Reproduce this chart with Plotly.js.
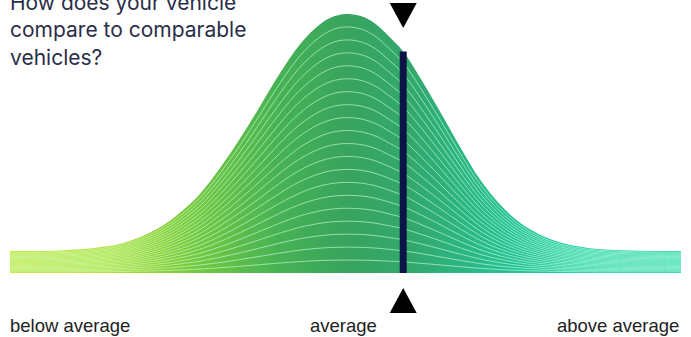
<!DOCTYPE html>
<html>
<head>
<meta charset="utf-8">
<script src="https://cdn.plot.ly/plotly-3.0.1.min.js"></script>
<style>
  html, body { margin: 0; padding: 0; background: #ffffff; }
  #chart { width: 691px; height: 337px; }
</style>
</head>
<body>
<div id="chart"></div>
<script>
// Distribution of comparable vehicles (score 0..100, relative density, peak = 100)
const scores  = [0, 7.5, 13.4, 17.9, 22.4, 25.3, 28.3, 31.3, 34.3, 37.3, 40.2, 43.2, 46.2, 48.4, 50.4,
                 52.5, 54.4, 56.6, 58.6, 61.1, 64.1, 67.1, 70.0, 73.0, 76.0, 79.0, 82.0, 86.4, 92.4, 100];
const density = [8.5, 8.7, 9.9, 12.4, 17.8, 23.2, 30.5, 40.5, 52.0, 64.6, 77.0, 88.2, 96.0, 99.2, 100,
                 99.0, 96.3, 91.0, 85.5, 75.5, 62.3, 48.6, 36.3, 26.5, 19.4, 14.8, 11.8, 9.6, 8.7, 8.5];

// Stripe levels (fraction of the outer curve) drawn as thin white lines
const levels = [0.05, 0.10, 0.15, 0.20, 0.25, 0.30, 0.35, 0.40, 0.45, 0.50,
                0.55, 0.60, 0.65, 0.70, 0.75, 0.80, 0.85, 0.90, 0.95];

// Your vehicle
const vehicleScore = 58.6;
const vehicleDensity = 85.5;

// Axis labels
const axisLabels = ['below average', 'average', 'above average'];
const labelScores = [0, 50, 100];
const labelAnchors = ['left', 'center', 'right'];

const titleText = 'How does your vehicle<br>compare to comparable<br>vehicles?';

const traces = [];

traces.push({
  type: 'scatter', mode: 'lines',
  x: scores, y: density,
  line: { width: 0, shape: 'spline', smoothing: 1 },
  fill: 'tozeroy',
  fillgradient: {
    type: 'horizontal',
    colorscale: [
      [0.00, '#cfe214'],
      [0.15, '#b4dc26'],
      [0.28, '#74c842'],
      [0.40, '#47b254'],
      [0.50, '#38a45e'],
      [0.60, '#32a86e'],
      [0.72, '#28bd90'],
      [0.85, '#1cccaa'],
      [1.00, '#18d0b0']
    ]
  },
  hoverinfo: 'skip', showlegend: false
});

levels.forEach(function (f) {
  traces.push({
    type: 'scatter', mode: 'lines',
    x: scores, y: density.map(function (d) { return d * f; }),
    line: { color: 'rgba(200,255,215,0.7)', width: 0.9, shape: 'spline', smoothing: 1 },
    hoverinfo: 'skip', showlegend: false
  });
});

traces.push({
  type: 'scatter', mode: 'lines',
  x: [vehicleScore, vehicleScore], y: [0, vehicleDensity],
  line: { color: '#0c1445', width: 7 },
  hoverinfo: 'skip', showlegend: false
});

const annotations = axisLabels.map(function (t, i) {
  return {
    text: t, x: labelScores[i], xref: 'x', xanchor: labelAnchors[i],
    xshift: i === 0 ? -2 : (i === 1 ? -2 : 0),
    y: 0, yref: 'paper', yanchor: 'bottom', yshift: -1,
    showarrow: false,
    font: { family: 'Liberation Sans, Arial, sans-serif', size: 18.5, color: '#222222' }
  };
});

annotations.push({
  text: titleText, xref: 'paper', yref: 'paper',
  x: 8 / 691, xanchor: 'left', align: 'left',
  y: 1 - 30 / 337, yanchor: 'middle',
  showarrow: false,
  font: { family: 'Inter, Noto Sans, sans-serif', size: 21, color: '#2b2e48' }
});

const shapes = [
  {
    type: 'path', xref: 'x', yref: 'paper',
    xsizemode: 'pixel', ysizemode: 'pixel',
    xanchor: vehicleScore, yanchor: 1 - 15.5 / 337,
    path: 'M-13.5,12.5 L13.5,12.5 L0,-12.5 Z',
    fillcolor: '#000000', line: { width: 0 }
  },
  {
    type: 'path', xref: 'x', yref: 'paper',
    xsizemode: 'pixel', ysizemode: 'pixel',
    xanchor: vehicleScore, yanchor: 1 - 300.5 / 337,
    path: 'M-13.5,-12.5 L13.5,-12.5 L0,12.5 Z',
    fillcolor: '#000000', line: { width: 0 }
  }
];

const layout = {
  width: 691, height: 337,
  margin: { l: 0, r: 0, t: 0, b: 0, pad: 0 },
  paper_bgcolor: '#ffffff', plot_bgcolor: '#ffffff',
  showlegend: false,
  xaxis: { range: [-1.49, 101.49], visible: false, fixedrange: true },
  yaxis: { range: [-24.71, 105.41], visible: false, fixedrange: true },
  annotations: annotations,
  shapes: shapes
};

Plotly.newPlot('chart', traces, layout, { displayModeBar: false, staticPlot: true });
</script>
</body>
</html>
